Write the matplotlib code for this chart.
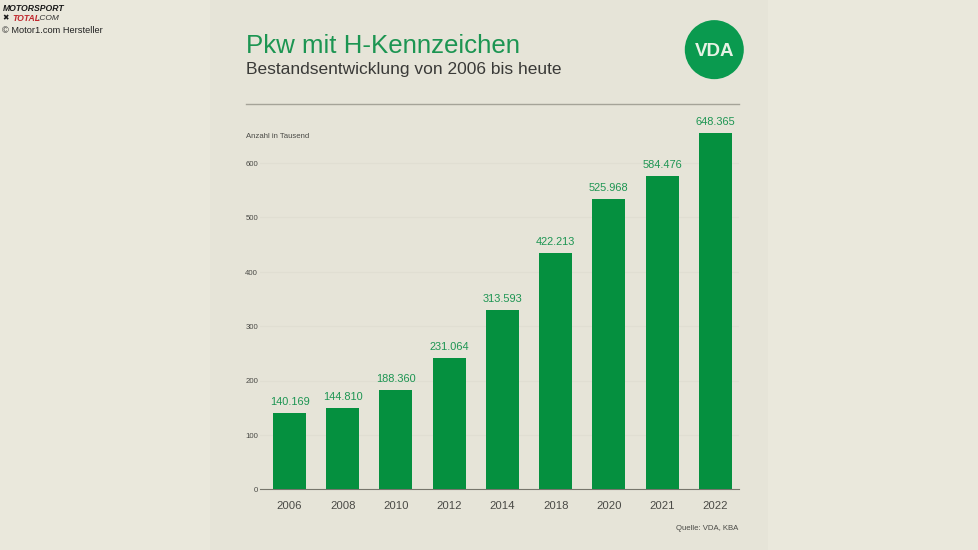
import matplotlib
matplotlib.use("Agg")
import matplotlib.pyplot as plt
from matplotlib.patches import Circle, Rectangle

plt.rcParams['font.family'] = ['Liberation Sans', 'DejaVu Sans']

years = ['2006', '2008', '2010', '2012', '2014', '2018', '2020', '2021', '2022']
# the drawn bars do not follow the printed numbers exactly, so both are kept
bar_heights = [140, 150, 182, 241, 330, 434, 533, 576, 654]
bar_labels = ['140.169', '144.810', '188.360', '231.064', '313.593',
              '422.213', '525.968', '584.476', '648.365']
y_ticks = [0, 100, 200, 300, 400, 500, 600]

GREEN = '#05903f'
TEXT_GREEN = '#1c9552'
BG = '#eae8dc'
PANEL = '#e6e4d8'
W, H = 978, 550

# the small extra stops the pixel width rounding down to 977
fig = plt.figure(figsize=((W + 0.4) / 100, (H + 0.4) / 100), dpi=100, facecolor=BG)

# overlay in pixel coordinates for header, logo and footer
deco = fig.add_axes([0, 0, 1, 1], zorder=0)
deco.set_xlim(0, W)
deco.set_ylim(H, 0)
deco.axis('off')
deco.add_patch(Rectangle((210, 0), 558, H, fc=PANEL, ec='none'))
deco.text(246, 45.5, 'Pkw mit H-Kennzeichen', fontsize=18.6, color=TEXT_GREEN, va='center')
deco.text(246, 69.5, 'Bestandsentwicklung von 2006 bis heute', fontsize=12.5, color='#3a3a38', va='center')
deco.plot([246, 738.5], [104, 104], color='#a5a398', lw=1)
deco.add_patch(Circle((714, 50), 29.5, fc='#0a9a4f', ec='none'))
deco.text(714, 51, 'VDA', fontsize=13.5, fontweight='bold', color='#e6f2e4', ha='center', va='center')
deco.text(246, 136, 'Anzahl in Tausend', fontsize=5.6, color='#4a4a46', va='center')
deco.text(738, 528, 'Quelle: VDA, KBA', fontsize=5.6, color='#4a4a46', ha='right', va='center')

# watermark top left
deco.text(3, 8.5, 'MOTORSPORT', fontsize=6.2, fontweight='bold', style='italic', color='#1a1a1a', va='center')
deco.text(2, 18, '✖', fontsize=5.5, color='#1a1a1a', va='center', family='DejaVu Sans')
deco.text(12, 18, 'TOTAL', fontsize=6.2, fontweight='bold', style='italic', color='#c0272d', va='center')
deco.text(38, 18, '.COM', fontsize=6.0, style='italic', color='#333333', va='center')
deco.text(2, 30.5, '© Motor1.com Hersteller', fontsize=6.7, color='#222222', va='center')

# main plot, baseline at y=489.5 and 54.4 px per 100
left, right, bottom, top = 260, 739, 489.5, 120
ax = fig.add_axes([left / W, 1 - bottom / H, (right - left) / W, (bottom - top) / H], zorder=1)
ax.patch.set_alpha(0)
x = list(range(len(years)))
ax.bar(x, bar_heights, width=0.62, color=GREEN, zorder=3)
for i, h, lab in zip(x, bar_heights, bar_labels):
    ax.annotate(lab, (i, h), xytext=(0, 6.5), textcoords='offset pixels', ha='center', va='bottom',
                fontsize=7.9, color=TEXT_GREEN, annotation_clip=False)

ax.set_xlim(-0.553, 8.45)
ax.set_ylim(0, (bottom - top) / 0.544)
ax.set_xticks(x, years)
ax.set_yticks(y_ticks)
ax.yaxis.grid(True, color='#e0ded2', lw=0.8, zorder=0)
ax.tick_params(axis='x', length=0, pad=8, labelsize=8.2, labelcolor='#4a4a46')
ax.tick_params(axis='y', length=0, pad=1.5, labelsize=5.6, labelcolor='#4a4a46')
for side in ['top', 'right', 'left']:
    ax.spines[side].set_visible(False)
ax.spines['bottom'].set_color('#77766c')
ax.spines['bottom'].set_linewidth(0.8)

fig.savefig('out.png', dpi=100, facecolor=fig.get_facecolor())
